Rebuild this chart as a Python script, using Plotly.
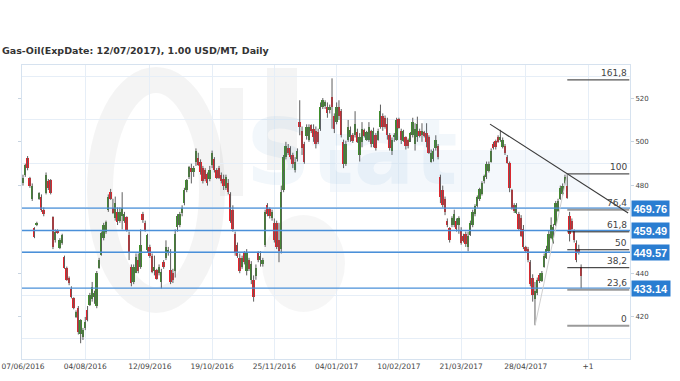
import plotly.graph_objects as go

TITLE = "Gas-Oil(ExpDate: 12/07/2017), 1.00 USD/MT, Daily"

OPEN = [
    481, 485, 492.5, 483.5, 474, 460.5, 462, 474, 475, 469,
    476.5, 482, 482.5, 465.5, 455, 459.5, 451.5, 454, 447.5, 442.5,
    438, 433, 428.5, 420, 424, 412, 411, 415, 423, 425.5,
    428, 429, 425, 442.5, 448.5, 456, 459, 469, 477, 470,
    465, 468, 464, 466, 464, 465.5, 457.5, 443, 436, 440,
    446, 443, 467, 463, 450.5, 452, 448, 441, 441.5, 440,
    436, 445, 447, 450, 441.5, 440, 441, 461, 462, 467.5,
    472, 478, 484, 488, 486, 491, 492.5, 491, 488, 487,
    485.5, 483, 489.5, 492, 487, 488, 485, 483, 479, 481,
    476, 469, 458, 453, 447, 443, 449, 441, 446, 437,
    437, 438.5, 449, 446, 444, 453, 471, 469.5, 465, 463,
    463, 455, 451, 478, 493, 497, 497, 494, 487, 492,
    509, 505, 499, 502.5, 501, 507.5, 506, 505, 504.5, 506,
    516, 516.5, 516, 514.5, 520.5, 512, 509, 516, 514, 500,
    490, 501, 502, 503, 503, 504.5, 494, 500, 505.5, 501,
    501, 505, 499, 503, 501, 507, 512, 511, 508, 503,
    496, 502, 501, 510.5, 505, 500.5, 502, 501, 500, 503,
    499, 502, 505, 503, 504.5, 504, 502, 491, 492, 497,
    498, 484, 478, 474, 464, 460.5, 462, 462, 464, 462,
    459.5, 457, 458, 452, 457.5, 462, 467, 470.5, 474, 476,
    482, 484, 486.5, 491, 499, 500.5, 502, 501, 497.5, 498,
    493, 490.5, 478, 471, 467.5, 467, 465, 460, 452, 451,
    445, 438, 428, 431, 439, 436.5, 443, 447, 450, 456,
    454, 462, 468.5, 474, 476, 481, 480, 466, 464, 459.5,
    454, 451, 443,
]
HIGH = [
    485, 490, 493.5, 484, 481, 461, 463.5, 477, 476, 470,
    486, 483, 483, 466, 460, 460, 456, 458, 448, 443,
    438.5, 434, 429, 423, 425, 419, 415, 420, 425, 431,
    436, 432, 441, 447, 459, 463, 464, 476, 478.5, 474,
    475, 470, 470, 477, 468, 466, 459, 444, 444, 449,
    449, 460, 468, 464, 458, 453, 449, 448, 442, 444,
    442, 446, 455, 452, 451, 442, 460, 467, 468, 471,
    479, 483, 489, 490, 489, 497, 495, 492, 489, 488,
    486, 489, 496, 493, 488, 489, 486, 485, 485, 483,
    477, 471, 459, 454, 449, 448, 450, 451, 447, 445.5,
    439, 444, 450, 450, 447, 469, 472, 470, 469, 465,
    464, 463, 480, 494, 500, 499, 498, 495, 493, 497,
    519, 507, 500, 508, 508, 508, 508, 507, 506, 518,
    520, 519, 518, 517, 529, 513, 518, 519, 515, 501,
    500.5, 510, 507, 504, 514, 506, 504, 509, 506, 505,
    509, 505.5, 506.5, 504, 506, 517, 513, 512, 511, 504,
    502, 504, 511, 511, 506, 505.5, 502.5, 501.5, 504.5, 511,
    508.5, 511.5, 506, 508.5, 505, 508.5, 503, 496.5, 497, 503,
    499, 485, 480, 475, 465, 461, 466, 469, 465, 466,
    461, 458, 459, 459, 464, 469, 471.5, 475.5, 479, 482,
    485, 491, 491, 497, 500, 501, 503, 505.5, 502, 499,
    494, 491, 478.5, 472, 472, 468, 466.5, 462, 452.5, 452,
    446, 439.5, 436, 438, 440, 441, 449, 452.5, 459.5, 465.5,
    462.5, 473, 474, 480, 481, 485, 485.4, 468, 465, 460,
    455, 453, 444,
]
LOW = [
    480, 484, 487, 479, 473, 456, 461.5, 473.5, 468, 466,
    476, 478, 476, 451, 454, 458, 451, 453, 442, 436.5,
    434.5, 428.5, 423.5, 419.5, 412, 408, 409.5, 414, 418, 425,
    427, 426, 424, 442, 448, 455, 458, 468, 473.5, 467,
    464, 462, 463, 460, 463, 459, 446, 434, 435, 440,
    440, 442, 463, 459, 449.5, 447, 440, 439, 437, 439,
    433, 442, 446, 448, 435, 435.5, 438, 459, 461, 466,
    471, 477, 483, 481, 484, 489, 489, 485, 481, 482,
    480, 482, 488, 486, 483, 483, 481, 478, 478, 476,
    463, 459, 448, 447, 440, 442, 444, 439, 441, 435,
    427, 437, 445, 443, 443, 452, 466, 465, 464, 454,
    451, 445, 449, 477, 492, 494, 492, 488, 486, 491,
    503, 494, 490, 501, 500, 504, 500, 497, 499, 505,
    515, 515, 511, 513, 506, 504, 508, 510, 502, 488,
    489, 500, 500, 499.5, 502, 499.5, 491, 497.5, 502, 500.5,
    500, 497.5, 497.5, 496, 500.5, 506, 505, 506, 501, 496,
    494, 500, 500.5, 506, 499, 500, 496.5, 497, 500, 502,
    496, 500, 502, 500, 502, 497.5, 494.5, 490.5, 491, 496,
    492, 472, 470, 466.5, 461, 454, 461, 461, 459, 458,
    453, 454, 452, 450, 457, 461, 466, 470, 473, 475.5,
    481, 483, 486, 490.5, 496.5, 496.5, 499.5, 500, 497, 494,
    490, 477, 469, 467.5, 467, 459.5, 456.5, 451, 449.5, 445,
    434, 427, 416.3, 430, 435.5, 436, 442.5, 446.5, 449.5, 455.5,
    453.5, 461.5, 468, 473.5, 475.5, 480.5, 474, 454.5, 459.5, 454,
    445, 448.5, 433.1,
]
CLOSE = [
    483.5, 489.5, 488, 480, 480, 456.5, 463, 476.5, 469, 467,
    485, 479, 476.5, 452, 459, 458.5, 455, 457.5, 442.5, 437,
    435.5, 429, 424, 422.5, 413, 418.5, 414, 417.5, 418.5, 430,
    433.5, 431, 440, 446, 458.5, 462, 463.5, 475, 474, 467.5,
    472, 463.5, 468, 470, 467, 459.5, 449, 435.5, 443, 447.5,
    441, 453, 464.5, 459.5, 457.5, 448, 440.5, 443, 437.5, 443,
    440.5, 443, 452, 450.5, 436, 437, 458, 466, 467, 470,
    478, 482.5, 488.5, 486, 488, 496, 489.5, 486, 482, 483,
    481, 487, 495, 487, 483.5, 483.5, 482, 480, 484, 477,
    464, 460, 449, 448, 441, 447, 445, 449, 442, 444,
    429, 442.5, 446, 448, 446, 468, 467, 466, 468, 455,
    452, 450, 477, 493, 498, 495, 493, 490, 491, 496,
    507, 497, 491, 507, 507, 505, 502, 499, 500, 516,
    519, 518, 513, 516, 516, 506, 516, 512, 503, 490,
    499, 507, 505.5, 500.5, 508, 500, 502, 506, 502.5, 504.5,
    507, 499, 505, 497, 505, 514, 507, 507, 503, 497,
    501, 503, 510, 506.5, 501, 505, 498, 498, 504, 509,
    506, 508, 502.5, 505, 502.5, 500, 495, 495, 496, 501,
    493, 475, 471, 468, 462, 455, 465, 467, 460, 465,
    454, 454.5, 453.5, 457, 463, 468, 470.5, 475, 478.5, 481,
    484.5, 490, 490, 496, 497, 497.5, 500, 502, 501, 495,
    490.5, 479, 470, 468.5, 471, 460, 457, 452, 450, 446,
    435, 430, 432, 437, 436.5, 440, 448, 451, 458, 462,
    461, 472, 473, 479, 480, 484, 474.5, 458, 460, 455,
    446, 449.5, 438.5,
]

X_TICK_BARS = [0, 27, 55, 82, 109, 136, 163, 190, 218, 245]
X_TICK_TEXT = ["07/06/2016", "04/08/2016", "12/09/2016", "19/10/2016", "25/11/2016",
               "04/01/2017", "10/02/2017", "21/03/2017", "28/04/2017", "+1"]
Y_TICKS = [420, 440, 480, 500, 520]
Y_GRID = [410, 430, 450, 470, 490, 510, 530]

PRICE_LEVELS = [469.76, 459.49, 449.57, 433.14]

FIB_RATIOS = [0, 23.6, 38.2, 50, 61.8, 76.4, 100, 161.8]
FIB_TEXT = ["0", "23,6", "38,2", "50", "61,8", "76,4", "100", "161,8"]
FIB_LOW_BAR, FIB_LOW = 222, 416.0
FIB_HIGH_BAR, FIB_HIGH = 236, 485.4
FIB_END_BAR = 262.9

TREND_BARS = [202.5, 262.4]
TREND_PRICES = [508.1, 467.5]

GREEN = "#3f8f2b"
RED = "#e8232b"

n = len(OPEN)
assert len(HIGH) == n and len(LOW) == n and len(CLOSE) == n
xs = list(range(n))

fig = go.Figure()

# wicks
wx, wy = [], []
for i in xs:
    wx += [i, i, None]
    wy += [LOW[i], HIGH[i], None]
fig.add_trace(go.Scatter(x=wx, y=wy, mode="lines", line=dict(color="#5e5e5e", width=1),
                         hoverinfo="skip"))

# bodies
base = [min(o, c) for o, c in zip(OPEN, CLOSE)]
size = [max(abs(c - o), 0.35) for o, c in zip(OPEN, CLOSE)]
cols = [GREEN if c >= o else RED for o, c in zip(OPEN, CLOSE)]
fig.add_trace(go.Bar(x=xs, y=size, base=base, width=0.8, marker=dict(color=cols, line=dict(width=0)),
                     hoverinfo="skip"))

# page-pixel helpers for the watermark (plot area spans x 22..630, y 65..359)
def px(x):
    return (x - 22) / 608.0


def py(y):
    return (359 - y) / 294.0


WM_GRAY = "rgba(0,0,0,0.045)"
shapes = [
    dict(type="circle", xref="paper", yref="paper", x0=px(100), x1=px(212), y0=py(300), y1=py(80),
         line=dict(color=WM_GRAY, width=26), fillcolor="rgba(0,0,0,0)", layer="below"),
    dict(type="rect", xref="paper", yref="paper", x0=px(220), x1=px(243), y0=py(196), y1=py(88),
         line=dict(width=0), fillcolor=WM_GRAY, layer="below"),
    dict(type="rect", xref="paper", yref="paper", x0=px(267), x1=px(297), y0=py(170), y1=py(68),
         line=dict(width=0), fillcolor=WM_GRAY, layer="below"),
    dict(type="circle", xref="paper", yref="paper", x0=px(262), x1=px(345), y0=py(312), y1=py(215),
         line=dict(width=0), fillcolor="rgba(0,0,0,0.035)", layer="below"),
    dict(type="rect", xref="paper", yref="paper", x0=px(330), x1=px(590), y0=py(192), y1=py(150),
         line=dict(width=0), fillcolor="rgba(70,140,205,0.06)", layer="below"),
]

for lv in PRICE_LEVELS:
    shapes.append(dict(type="line", xref="paper", x0=0, x1=1, yref="y", y0=lv, y1=lv,
                       line=dict(color="#4a90d9", width=1.3)))

fib_style = {0: ("#9a9a9a", 2), 23.6: ("#9a9a9a", 2), 38.2: ("#222", 1), 50: ("#222", 1),
             61.8: ("#222", 1), 76.4: ("#9a9a9a", 2), 100: ("#555", 1.2), 161.8: ("#555", 1.2)}
annotations = [
    dict(x=px(460), y=py(98), xref="paper", yref="paper", text="<b>Stat</b>", showarrow=False,
         font=dict(family="DejaVu Sans", size=90, color="rgba(70,140,205,0.07)")),
]
for r, t in zip(FIB_RATIOS, FIB_TEXT):
    lv = FIB_LOW + (FIB_HIGH - FIB_LOW) * r / 100.0
    c, w = fib_style[r]
    shapes.append(dict(type="line", xref="x", x0=FIB_HIGH_BAR, x1=FIB_END_BAR, yref="y", y0=lv, y1=lv,
                       line=dict(color=c, width=w)))
    annotations.append(dict(x=FIB_END_BAR, y=lv, xref="x", yref="y", text=t, showarrow=False,
                            xanchor="right", yanchor="bottom", yshift=0,
                            font=dict(family="DejaVu Sans", size=9, color="#444")))

# fib anchor line
shapes.append(dict(type="line", xref="x", yref="y", x0=FIB_LOW_BAR, y0=FIB_LOW, x1=FIB_HIGH_BAR, y1=FIB_HIGH,
                   line=dict(color="#cfcfcf", width=1)))
# trend line
shapes.append(dict(type="line", xref="x", yref="y", x0=TREND_BARS[0], y0=TREND_PRICES[0],
                   x1=TREND_BARS[1], y1=TREND_PRICES[1], line=dict(color="#3a3a3a", width=1.1)))

for lv in PRICE_LEVELS:
    annotations.append(dict(x=1, xref="paper", y=lv, yref="y", text=f"{lv:.2f}", showarrow=False,
                            xanchor="left", yanchor="middle", xshift=1, bgcolor="#2a7dd1", borderpad=1.5,
                            font=dict(family="Liberation Sans", size=11, color="white", weight="bold")))

fig.update_layout(
    width=680, height=381,
    margin=dict(l=22, r=50, t=65, b=22),
    plot_bgcolor="white", paper_bgcolor="white",
    showlegend=False, barmode="overlay", bargap=0,
    title=dict(text=TITLE, x=2 / 680, xanchor="left", y=1 - 51 / 381, yanchor="middle",
               font=dict(family="DejaVu Sans", size=9.5, color="#333", weight="bold")),
    shapes=shapes, annotations=annotations,
    xaxis=dict(range=[-0.43, 263.2], tickvals=X_TICK_BARS, ticktext=X_TICK_TEXT,
               showgrid=True, gridcolor="#e6eef7", gridwidth=1, zeroline=False,
               showline=True, linecolor="#d6e2ef", mirror=True, ticks="",
               tickfont=dict(family="DejaVu Sans", size=7.5, color="#444"), automargin=False),
    yaxis=dict(side="right", range=[400.8, 535.1], tickvals=Y_TICKS, showgrid=False, zeroline=False,
               minor=dict(tickvals=Y_GRID, showgrid=True, gridcolor="#e6eef7", ticks=""),
               ticks="outside", ticklen=3, tickcolor="#c8d4e0", showline=True, linecolor="#d6e2ef",
               mirror="ticks", tickfont=dict(family="DejaVu Sans", size=7, color="#444"),
               automargin=False),
)

fig.write_html("out.html", config={"displayModeBar": False},
               post_script="document.body.style.margin='0';document.body.style.overflow='hidden';")
